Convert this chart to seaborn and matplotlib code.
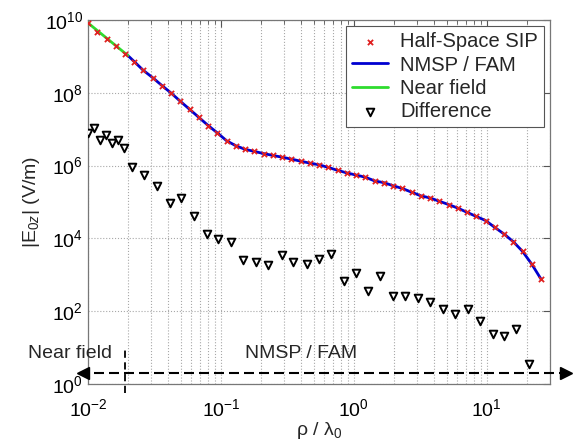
import numpy as np
import pandas as pd
import matplotlib
matplotlib.use("Agg")
import matplotlib.pyplot as plt
import matplotlib.transforms as mtransforms
from matplotlib.ticker import FixedLocator, LogFormatterSciNotation, NullLocator, NullFormatter
import seaborn as sns

# ---------------- data ----------------
sip_x = [0.0100, 0.01174, 0.01378, 0.01617, 0.01898, 0.02228, 0.02615, 0.03070, 0.03603, 0.04229,
         0.04964, 0.05827, 0.06840, 0.08028, 0.09423, 0.1106, 0.1298, 0.1524, 0.1789, 0.2100,
         0.2465, 0.2893, 0.3396, 0.3986, 0.4678, 0.5491, 0.6445, 0.7565, 0.888, 1.042,
         1.224, 1.436, 1.686, 1.979, 2.323, 2.727, 3.200, 3.756, 4.409, 5.175,
         6.074, 7.130, 8.369, 9.823, 11.53, 13.53, 15.89, 18.65, 21.89, 25.69]
sip_y = [8.3e9, 4.7e9, 2.95e9, 1.9e9, 1.17e9, 7.2e8, 4.1e8, 2.6e8, 1.58e8, 9.8e7,
         5.8e7, 3.5e7, 2.1e7, 1.26e7, 7.9e6, 4.8e6, 3.5e6, 2.8e6, 2.45e6, 2.14e6,
         1.9e6, 1.7e6, 1.51e6, 1.32e6, 1.17e6, 1.05e6, 8.9e5, 7.4e5, 6.3e5, 5.5e5,
         4.8e5, 3.8e5, 3.4e5, 2.8e5, 2.35e5, 1.86e5, 1.48e5, 1.29e5, 1.05e5, 8.5e4,
         6.8e4, 5.2e4, 4.0e4, 3.1e4, 2.0e4, 1.32e4, 8.1e3, 4.4e3, 1.95e3, 760]

nmsp_x = [0.0200] + sip_x[5:]
nmsp_y = [1.05e9] + sip_y[5:]

near_x = [0.0100, 0.0200]
near_y = [8.3e9, 1.05e9]

diff_x = [0.0100, 0.0111, 0.0123, 0.0137, 0.0152, 0.0168, 0.0187, 0.0215, 0.0265, 0.0332,
          0.0416, 0.0504, 0.0631, 0.0791, 0.0957, 0.120, 0.148, 0.185, 0.228, 0.286,
          0.352, 0.442, 0.544, 0.670, 0.841, 1.035, 1.276, 1.571, 1.968, 2.425,
          3.041, 3.748, 4.698, 5.786, 7.244, 8.925, 11.19, 13.55, 16.70, 20.94]
diff_y = [7.8e6, 1.1e7, 4.9e6, 6.8e6, 4.1e6, 5.1e6, 3.1e6, 8.9e5, 5.5e5, 2.7e5,
          9.1e4, 1.26e5, 4.2e4, 1.32e4, 9.5e3, 7.9e3, 2.5e3, 2.2e3, 1.86e3, 3.5e3,
          2.2e3, 1.95e3, 2.75e3, 3.8e3, 660, 1150, 370, 910, 263, 263,
          229, 182, 117, 83, 115, 54, 23, 21, 32, 3.6]

x_major_ticks = [0.01, 0.1, 1, 10]
x_minor_ticks = [m * d for d in (0.01, 0.1, 1, 10) for m in range(2, 10) if m * d <= 30]
y_major_ticks = [1, 1e2, 1e4, 1e6, 1e8, 1e10]

series_labels = ["Half-Space SIP", "NMSP / FAM", "Near field", "Difference"]
region_labels = ["Near field", "NMSP / FAM"]
region_boundary = 0.019
arrow_level = 2.0

# ---------------- style ----------------
sns.set_theme(style="white")
plt.rcParams["font.family"] = ["Liberation Sans", "DejaVu Sans"]
plt.rcParams["mathtext.fontset"] = "custom"
plt.rcParams["mathtext.rm"] = "Liberation Sans"
plt.rcParams["mathtext.it"] = "Liberation Sans:italic"
plt.rcParams["mathtext.bf"] = "Liberation Sans:bold"

fig = plt.figure(figsize=(5.74, 4.40), dpi=100)
ax = fig.add_axes([88 / 574, 56 / 440, 462 / 574, 364 / 440])

df_sip = pd.DataFrame({"x": sip_x, "y": sip_y})
df_nmsp = pd.DataFrame({"x": nmsp_x, "y": nmsp_y})
df_near = pd.DataFrame({"x": near_x, "y": near_y})
df_diff = pd.DataFrame({"x": diff_x, "y": diff_y})

sns.lineplot(data=df_nmsp, x="x", y="y", ax=ax, color="#0000d0", lw=2.0,
             estimator=None, sort=False, label=series_labels[1], zorder=3)
sns.lineplot(data=df_near, x="x", y="y", ax=ax, color="#2edc2e", lw=2.0,
             estimator=None, sort=False, label=series_labels[2], zorder=3)
sns.scatterplot(data=df_sip, x="x", y="y", ax=ax, marker="x", color="#e02020",
                s=14, linewidth=1.3, label=series_labels[0], zorder=4)
sns.scatterplot(data=df_diff, x="x", y="y", ax=ax, marker="v", facecolor="white",
                edgecolor="black", s=30, linewidth=1.4, label=series_labels[3], zorder=4)

ax.set_xscale("log")
ax.set_yscale("log")
ax.set_xlim(0.01, 30)
ax.set_ylim(1, 1e10)

ax.xaxis.set_major_locator(FixedLocator(x_major_ticks))
ax.xaxis.set_minor_locator(FixedLocator(x_minor_ticks))
ax.xaxis.set_minor_formatter(NullFormatter())
ax.yaxis.set_major_locator(FixedLocator(y_major_ticks))
ax.yaxis.set_minor_locator(NullLocator())
ax.xaxis.set_major_formatter(LogFormatterSciNotation())
ax.yaxis.set_major_formatter(LogFormatterSciNotation())

ax.grid(True, which="major", axis="both", linestyle=":", color="#a8a8a8", lw=0.8)
ax.grid(True, which="minor", axis="x", linestyle=":", color="#a8a8a8", lw=0.8)
ax.tick_params(axis="both", which="both", direction="in", top=True, right=True,
               colors="#555555", labelcolor="black", labelsize=14)
ax.tick_params(which="major", length=5, width=0.8)
ax.tick_params(which="minor", length=3, width=0.6)
ax.tick_params(axis="x", which="major", pad=10)
for sp in ax.spines.values():
    sp.set_color("#777777")
    sp.set_linewidth(0.9)

ax.set_xlabel("ρ / λ$_0$", fontsize=14, labelpad=0)
ax.set_ylabel(r"$|\mathrm{E}_{0z}|$ (V/m)", fontsize=14, labelpad=2)

# legend in reference order
h, l = ax.get_legend_handles_labels()
order = [l.index(s) for s in series_labels]
leg = ax.legend([h[i] for i in order], [l[i] for i in order], loc="upper right",
                fontsize=14.5, frameon=True, fancybox=False, framealpha=1,
                edgecolor="#555555", handlelength=1.8, labelspacing=0.22,
                borderpad=0.3, handletextpad=0.6, borderaxespad=0.3)
leg.get_frame().set_linewidth(0.8)

# region annotations
blend = mtransforms.blended_transform_factory(ax.transAxes, ax.transData)
ax.plot([-0.02, 1.03], [arrow_level, arrow_level], transform=blend, color="black",
        lw=1.5, linestyle=(0, (4.8, 2.4)), clip_on=False, zorder=5)
ax.plot([-0.011], [arrow_level], transform=blend, marker="<", ms=8, color="black",
        clip_on=False, zorder=5, lw=0)
ax.plot([1.035], [arrow_level], transform=blend, marker=">", ms=8, color="black",
        clip_on=False, zorder=5, lw=0)
ax.plot([region_boundary, region_boundary], [0.55, 10], color="black", lw=1.3,
        linestyle=(0, (4, 2.5)), clip_on=False, zorder=5)
ax.text(-0.13, 5.2, region_labels[0], transform=blend, fontsize=14, ha="left",
        va="baseline")
ax.text(0.40, 5.2, region_labels[1], fontsize=14, ha="center", va="baseline")

fig.savefig("out.png", dpi=100)
